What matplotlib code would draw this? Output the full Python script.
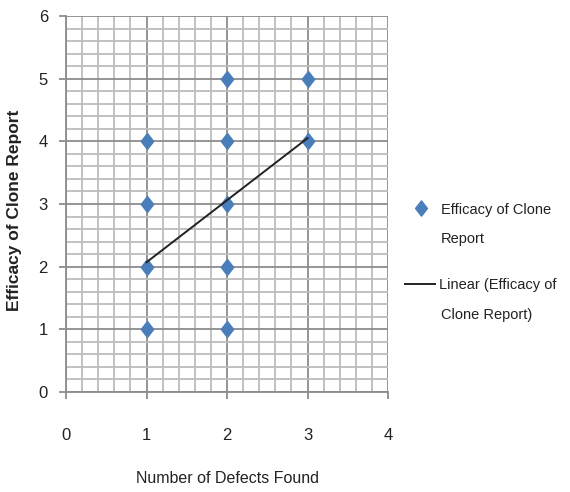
import matplotlib
matplotlib.use("Agg")
import matplotlib.pyplot as plt
from matplotlib.path import Path
from matplotlib.lines import Line2D
import numpy as np

# Data
x_vals = [1, 1, 1, 1, 2, 2, 2, 2, 2, 3, 3]
y_vals = [1, 2, 3, 4, 1, 2, 3, 4, 5, 4, 5]
trend_x = [1, 3]
trend_y = [2.07, 4.05]
x_ticks = [0, 1, 2, 3, 4]
y_ticks = [0, 1, 2, 3, 4, 5, 6]
series_label = ["Efficacy of Clone", "Report"]
trend_label = ["Linear (Efficacy of", "Clone Report)"]

fam = ['Liberation Sans', 'DejaVu Sans']
txt_col = '#222222'

diamond = Path([(0, -1), (0.78, 0), (0, 1), (-0.78, 0), (0, -1)],
               [Path.MOVETO, Path.LINETO, Path.LINETO, Path.LINETO, Path.CLOSEPOLY])

W, H = 570, 492
fig = plt.figure(figsize=(W/100, H/100), dpi=100)
ax = fig.add_axes([66/W, 1-392/H, (388-66)/W, (392-16)/H])

ax.set_xlim(0, 4)
ax.set_ylim(0, 6)
ax.set_xticks(x_ticks)
ax.set_yticks(y_ticks)
ax.set_xticks(np.arange(0, 4.01, 0.2), minor=True)
ax.set_yticks(np.arange(0, 6.01, 0.2), minor=True)
ax.grid(which='minor', color='#bcbcbc', linewidth=1.3)
ax.grid(which='major', color='#8c8c8c', linewidth=1.3)
ax.set_axisbelow(True)
for s in ['top', 'right']:
    ax.spines[s].set_visible(False)
for s in ['left', 'bottom']:
    ax.spines[s].set_color('#8c8c8c')
    ax.spines[s].set_linewidth(1.3)
ax.tick_params(which='major', length=5, color='#8c8c8c', width=1.3, pad=8,
               labelsize=12, labelcolor=txt_col)
ax.tick_params(axis='x', pad=21)
ax.tick_params(which='minor', length=0)
for lab in ax.get_xticklabels() + ax.get_yticklabels():
    lab.set_family(fam)

ax.plot(x_vals, y_vals, linestyle='none', marker=diamond, markersize=11.5,
        color='#4a7ebb', zorder=3, clip_on=False)
ax.plot(trend_x, trend_y, color=txt_col, linewidth=1.4, zorder=4)

ax.set_xlabel("Number of Defects Found", family=fam, fontsize=11.5,
              color=txt_col, labelpad=20)
fig.text(15/W, 1-210/H, "Efficacy of Clone Report", rotation=90,
         ha='center', va='center', family=fam, fontsize=12.5,
         fontweight='bold', color=txt_col)

# Legend (drawn in figure coordinates)
fig.add_artist(Line2D([421/W], [1-208/H], linestyle='none', marker=diamond,
                      markersize=11, color='#4a7ebb', transform=fig.transFigure))
fig.add_artist(Line2D([405/W, 435/W], [1-284/H, 1-284/H], color=txt_col,
                      linewidth=1.4, transform=fig.transFigure))
for i, line in enumerate(series_label):
    fig.text(441/W, 1-(208+30*i)/H, line, ha='left', va='center_baseline',
             family=fam, fontsize=10.5, color=txt_col)
for i, line in enumerate(trend_label):
    fig.text((439 if i == 0 else 441)/W, 1-(284+29*i)/H, line, ha='left',
             va='center_baseline', family=fam, fontsize=10.5, color=txt_col)

fig.savefig("out.png", dpi=100)
